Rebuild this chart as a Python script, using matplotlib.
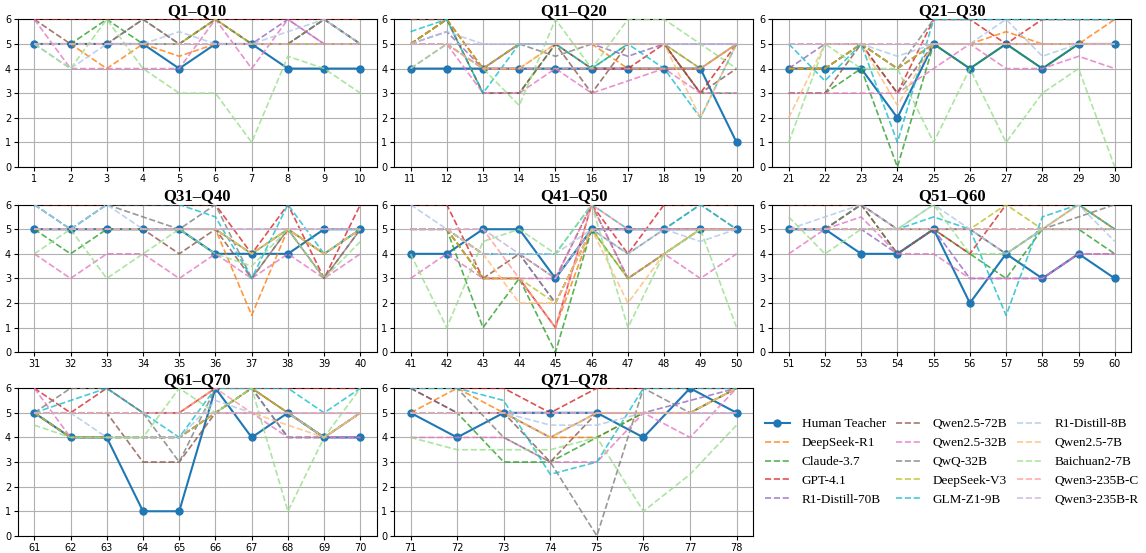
import matplotlib
matplotlib.use("Agg")
import matplotlib.pyplot as plt
import numpy as np

questions = list(range(1, 79))

human = [5,5,5,5,4,5,5,4,4,4,
         4,4,4,4,4,4,4,4,4,1,
         4,4,4,2,5,4,5,4,5,5,
         5,5,5,5,5,4,4,4,5,5,
         4,4,5,5,3,5,5,5,5,5,
         5,5,4,4,5,2,4,3,4,3,
         5,4,4,1,1,6,4,5,4,4,
         5,4,5,5,5,4,6,5]
deepseek_r1 = [5,5,4,5,4.5,5,5,5,5,5,
               5,6,4,4,5,5,4,4,4,5,
               4,4,5,4,5,5,5.5,5,5,6,
               5,5,5,5,5,5,1.5,5,4,5,
               5,5,3,3,1,5,5,5,5,5,
               5,5,5,5,5,5,5,5,6,5,
               5,5,5,5,5,6,6,5,4,5,
               5,6,5,4,4,5,5,6]
claude = [5,5,6,5,5,6,5,5,6,5,
          5,6,3,3,5,4,5,5,3,3,
          3,3,4,0,5,4,5,4,5,5,
          5,4,5,5,5,5,4,5,4,5,
          5,5,1,3,0,5,3,4,5,5,
          5,5,6,4,5,4,3,5,5,4,
          5,4,4,4,4,5,6,4,4,5,
          5,5,3,3,4,5,5,6]
gpt41 = [6,6,6,6,6,6,6,6,6,6,
         5,6,4,5,5,4,4,5,3,5,
         4,4,5,3,6,6,5,6,6,6,
         6,6,6,6,6,6,4,6,3,6,
         6,6,3,3,1,6,4,6,6,6,
         6,6,6,5,5,4,6,6,6,5,
         6,5,6,5,5,6,6,6,6,6,
         6,6,6,5,6,6,6,6]
r1_distill_70b = [5,5,5,5,5,5,5,6,5,5,
                  5,5.5,4,5,5,5,4.5,5,5,5,
                  4,5,5,4,5,5,5,5,5,5,
                  5,5,5,5,5,5,4,5,4,5,
                  5,5,4,4,2,5,5,5,5,5,
                  5,5,5,4,5,3,3,3,4,4,
                  5,4,4,4,4,5,6,4,4,4,
                  6,5,5,4,5,5,5.5,6]
qwen25_72b = [6,5,5,6,5,6,5,5,6,5,
              6,6,3,3,5,3,5,5,3,4,
              3,3,5,3,5,5,5,5,5,5,
              5,5,5,5,4,5,3,5,3,5,
              5,5,3,4,3,6,3,4,5,5,
              5,5,6,4,5,5,4,5,5,5,
              5,5,5,3,3,5,6,5,4,5,
              6,5,5,3,5,5,5,6]
qwen25_32b = [6,4,4,4,4,6,4,6,5,5,
              4,5,3,3,4,3,3.5,4,3,3,
              3,3,3,3,4,5,4,4,4.5,4,
              4,3,4,4,3,4,3,4,3,4,
              3,4,3,3,3,6,3,4,3,4,
              4,5,5.5,4,4,3,3,3,4,4,
              6,4,4,4,4,5,5,4,4,4,
              4,4,4,3,3,5,4,6]
qwq_32b = [5,5,5,6,5,6,5,5,6,5,
           5,5,4,5,4.5,5,5,5,4,5,
           4,4,5,4,6,6,6,6,6,6,
           6,5,6,5.5,5,6,3,5,3,5,
           5,5,4,4,2,5,4,5,6,5,
           5,5,6,5,5,5,4,5,5.5,6,
           5,6,6,5,3,6,6,5,4,5,
           6,6,4,3,0,6,5,6]
deepseek_v3 = [5,5,5,5,5,6,5,5,5,5,
               5,6,4,5,5,5,5,5,4,5,
               4,4,5,4,5,5,5,5,5,5,
               5,5,5,5,5,5,4,5,4,5,
               5,5,3,3,2,5,3,4,5,5,
               5,5,5,5,5,5,6,5,6,5,
               5,4,4,4,4,5,6,5,4,5,
               5,5,5,4,5,5,5,6]
glm_z1_9b = [5,5,5,5,5,5,5,5,5,5,
             5.5,6,3,5,5,4,5,4,2,5,
             5,3.5,5,1,6,6,6,6,6,6,
             6,5,6,6,6,5.5,3,6,4,5,
             5,5,4,4,4,6,5,5,6,5,
             5,5,5,5,5.5,5,1.5,5.5,6,5,
             5,5.5,6,5,4,6,6,6,5,6,
             6,6,5.5,2.5,3,6,6,6]
r1_distill_8b = [5,4,5,5,5.5,5,5,5.5,6,5,
                 5,5.5,5,5,5,5,5,5,5,5,
                 5,5,5,4.5,5,5,6,4.5,5,5,
                 6,5,6,5,5,5,5,5,5,5,
                 6,5,4,4,4,5,4,5,4.5,5,
                 5,5.5,6,5,6,5,4,5,6,4.5,
                 5,5,4,4,4,5.5,5,5,4,5,
                 5,5,5,4.5,4.5,5,5,5]
qwen25_7b = [5,5,5,5,5,5,5,5,5,5,
             5,5,4,4,5,5,5,5,2,5,
             2,5,5,2.5,5,5,5,5,5,5,
             5,5,5,5,5,5,4,5,4,5,
             5,5,4,2,2,5,2,4,5,5,
             5,5,5,5,5,5,5,5,5,5,
             5,5,5,5,5,5,5,4.5,4,5,
             5,5,5,4,5,5,5,6]
baichuan2_7b = [5,4,6,4,3,3,1,4.5,4,3,
                4,5,4,2.5,6,4,6,6,5,4,
                1,5,4,4,1,4,1,3,4,0,
                4,5,3,4,5,4,3.5,5,3,4.5,
                4,1,4.5,5,4,6,1,4,5,1,
                5.5,4,5,5,6,4,4,5,5,5,
                4.5,4,4,4,6,5,6,1,4,6,
                4,3.5,3.5,3.5,4,1,2.5,4.5]
qwen3_235b_c = [5,5,5,5,5,5,5,5,5,5,
                5,5,4,4,4,4,4,4,4,5,
                5,5,5,5,5,5,5,5,5,5,
                5,5,5,5,5,5,5,5,5,5,
                5,5,5,3,1,6,5,5,5,5,
                5,5,5,5,5,5,5,5,5,5,
                5,5,5,5,5,6,5,5,5,5,
                5,5,5,5,5,5,5,5]
qwen3_235b_r = [5,5,5,5,5,5,5,5,5,5,
                5,5,5,5,5,5,5,5,5,5,
                5,5,5,5,5,5,5,5,5,5,
                5,5,5,5,5,5,5,5,5,5,
                5,5,5,4,3,5,5,5,5,5,
                5,5,5,5,5,5,5,5,5,5,
                5,5,5,5,5,5,5,5,5,5,
                5,5,5,5,5,5,5,5]

model_names = ["DeepSeek-R1", "Claude-3.7", "GPT-4.1", "R1-Distill-70B",
               "Qwen2.5-72B", "Qwen2.5-32B", "QwQ-32B", "DeepSeek-V3",
               "GLM-Z1-9B", "R1-Distill-8B", "Qwen2.5-7B", "Baichuan2-7B",
               "Qwen3-235B-C", "Qwen3-235B-R"]
model_scores = [deepseek_r1, claude, gpt41, r1_distill_70b, qwen25_72b,
                qwen25_32b, qwq_32b, deepseek_v3, glm_z1_9b, r1_distill_8b,
                qwen25_7b, baichuan2_7b, qwen3_235b_c, qwen3_235b_r]
model_colors = ["#ff7f0e", "#2ca02c", "#d62728", "#9467bd", "#8c564b",
                "#e377c2", "#7f7f7f", "#bcbd22", "#17becf", "#aec7e8",
                "#ffbb78", "#98df8a", "#ff9896", "#c5b0d5"]

panel_ranges = [(1, 10), (11, 20), (21, 30), (31, 40), (41, 50),
                (51, 60), (61, 70), (71, 78)]

fig = plt.figure(figsize=(11.46, 5.53), dpi=100)

col_left = [0.0157, 0.344, 0.674]
row_bottom = [0.698, 0.363, 0.031]
w, h = 0.313, 0.267

serif = ["Liberation Serif", "DejaVu Serif"]
handles = []
for i, (a, b) in enumerate(panel_ranges):
    r, c = divmod(i, 3)
    ax = fig.add_axes([col_left[c], row_bottom[r], w, h])
    xs = questions[a - 1:b]
    hl, = ax.plot(xs, human[a - 1:b], '-o', color="#1f77b4", lw=1.5, ms=5,
                  label="Human Teacher", zorder=2)
    hs = [hl]
    for name, sc, col in zip(model_names, model_scores, model_colors):
        l, = ax.plot(xs, sc[a - 1:b], '--', color=col, lw=1.2, alpha=0.8,
                     label=name, zorder=3)
        hs.append(l)
    if i == 0:
        handles = hs
    ax.set_ylim(0, 6)
    ax.set_xticks(xs)
    ax.set_yticks(range(0, 7))
    ax.tick_params(labelsize=7, length=3, pad=2)
    ax.grid(True, color="#b0b0b0", lw=0.8)
    ax.set_axisbelow(True)
    ax.set_title(f"Q{a}\u2013Q{b}", fontsize=12, fontweight="bold",
                 family=serif, pad=3)

lax = fig.add_axes([col_left[2], row_bottom[2], w, h])
lax.axis("off")
lax.legend(handles=handles, labels=[hh.get_label() for hh in handles],
           loc="center", ncol=3, frameon=False,
           prop={"family": serif, "size": 9.5}, handlelength=1.9,
           handletextpad=0.9, columnspacing=0.75, labelspacing=0.5)

fig.savefig("out.png", dpi=100)
